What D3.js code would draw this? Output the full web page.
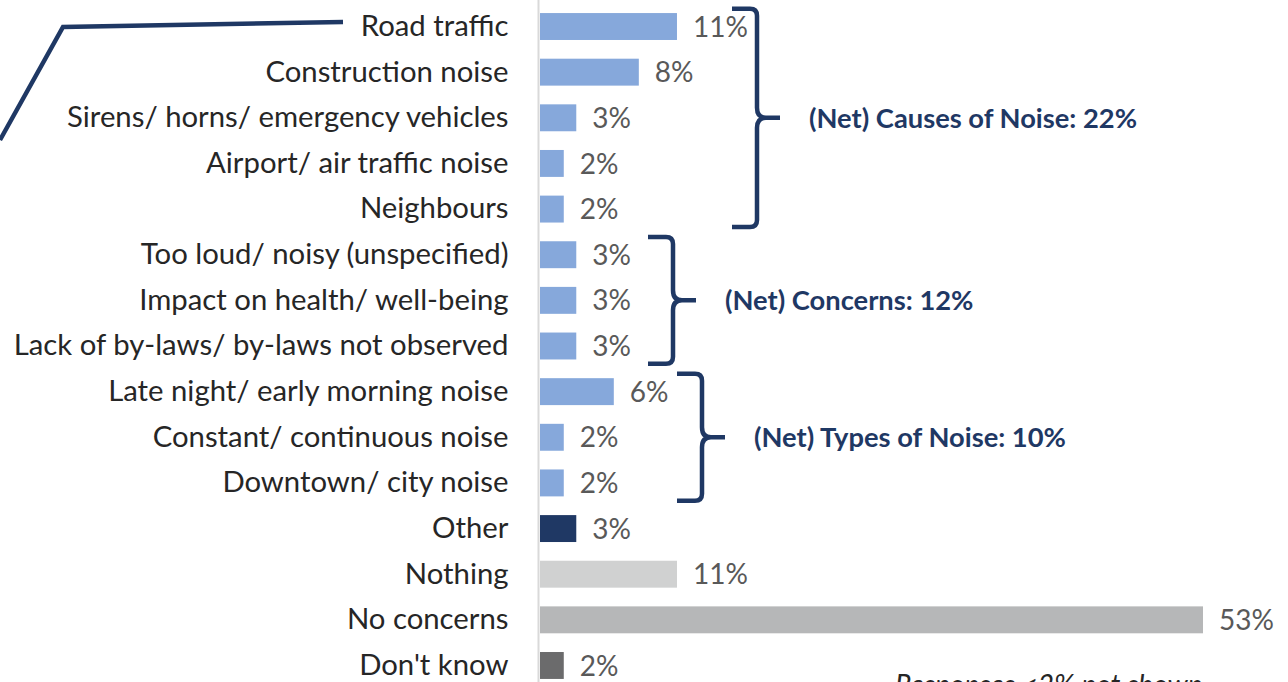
<!DOCTYPE html>
<html>
<head>
<meta charset="utf-8">
<script src="https://cdn.jsdelivr.net/npm/d3@7"></script>
<style>
  body { margin: 0; background: #fff; }
  svg { display: block; font-family: Lato, "Open Sans", sans-serif; }
</style>
</head>
<body>
<div id="app"></div>
<script>
// responses, top to bottom
const categories = [
  "Road traffic",
  "Construction noise",
  "Sirens/ horns/ emergency vehicles",
  "Airport/ air traffic noise",
  "Neighbours",
  "Too loud/ noisy (unspecified)",
  "Impact on health/ well-being",
  "Lack of by-laws/ by-laws not observed",
  "Late night/ early morning noise",
  "Constant/ continuous noise",
  "Downtown/ city noise",
  "Other",
  "Nothing",
  "No concerns",
  "Don't know"
]
const values = [10.95, 7.9, 2.9, 1.9, 1.9, 2.9, 2.9, 2.9, 5.9, 1.9, 1.9, 2.9, 10.95, 53, 1.9]
const valueLabels = ["11%", "8%", "3%", "2%", "2%", "3%", "3%", "3%", "6%", "2%", "2%", "3%", "11%", "53%", "2%"]
const barKinds = ["net", "net", "net", "net", "net", "net", "net", "net", "net", "net", "net", "other", "nothing", "none", "dk"]

const groupNames = ["(Net) Causes of Noise: 22%", "(Net) Concerns: 12%", "(Net) Types of Noise: 10%"]
const groupFirst = [0, 5, 8]
const groupLast = [4, 7, 10]

const footnote = "Responses <2% not shown"

const colors = {
    net: "#86A8DB",
    other: "#1F3864",
    nothing: "#D0D1D1",
    none: "#B6B7B8",
    dk: "#6B6B6C"
}
const navy = "#1F3864"

const width = 1288
const height = 682
const x0 = 540
const step = 45.64

const svg = d3.select('#app')
    .append('svg')
    .attr('width', width)
    .attr('height', height)

const xScale = d3.scaleLinear()
    .domain([0, 53])
    .range([x0, 1203])

const yScale = d3.scaleBand()
    .domain(categories)
    .range([3.7, 3.7 + step * categories.length])
    .paddingInner(0.41)
    .paddingOuter(0.205)

// bars
svg.selectAll('rect.bar')
    .data(categories)
    .enter()
    .append('rect')
    .attr('class', 'bar')
    .attr('x', xScale(0))
    .attr('y', d => yScale(d))
    .attr('width', (d, i) => xScale(values[i]) - xScale(0))
    .attr('height', yScale.bandwidth())
    .attr('fill', (d, i) => colors[barKinds[i]])

// y axis with category labels
const yAxis = d3.axisLeft(yScale).tickSize(0).tickPadding(30)
const gy = svg.append('g')
    .attr('transform', 'translate(538.5,0)')
    .call(yAxis)
gy.select('.domain').attr('stroke', '#D9D9D9').attr('stroke-width', 2)
    .attr('d', `M0,0V${height}`)
gy.selectAll('text')
    .attr('font-family', 'Lato, sans-serif')
    .attr('font-size', 29.3)
    .attr('fill', '#262626')

// value labels
svg.selectAll('text.val')
    .data(categories)
    .enter()
    .append('text')
    .attr('class', 'val')
    .attr('x', (d, i) => xScale(values[i]) + 16)
    .attr('y', d => yScale(d) + yScale.bandwidth() / 2)
    .attr('dy', '0.36em')
    .attr('font-size', 28)
    .attr('fill', '#595959')
    .text((d, i) => valueLabels[i])

// brackets for the net groups
const bracketX = [757, 673, 702]
groupNames.forEach((name, g) => {
    const a = yScale(categories[groupFirst[g]])
    const b = yScale(categories[groupLast[g]]) + yScale.bandwidth()
    const n = groupLast[g] - groupFirst[g] + 1
    const c = (a + b) / 2
    const half = n * step / 2 - 5
    const top = c - half, bot = c + half
    const x = bracketX[g]
    const p = d3.path()
    p.moveTo(x - 25, top)
    p.lineTo(x - 7, top)
    p.quadraticCurveTo(x, top, x, top + 7)
    p.lineTo(x, c - 10)
    p.quadraticCurveTo(x, c, x + 9, c)
    p.lineTo(x + 23, c)
    p.moveTo(x + 9, c)
    p.quadraticCurveTo(x, c, x, c + 10)
    p.lineTo(x, bot - 7)
    p.quadraticCurveTo(x, bot, x - 7, bot)
    p.lineTo(x - 25, bot)
    svg.append('path')
        .attr('d', p.toString())
        .attr('fill', 'none')
        .attr('stroke', navy)
        .attr('stroke-width', 4.5)
    svg.append('text')
        .attr('x', x + 52)
        .attr('y', c)
        .attr('dy', '0.36em')
        .attr('font-size', 27.3)
        .attr('font-weight', 'bold')
        .attr('fill', navy)
        .text(name)
})

// leader line from the top left
svg.append('path')
    .attr('d', d3.line()([[0, 140], [63, 27], [343, 22]]))
    .attr('fill', 'none')
    .attr('stroke', navy)
    .attr('stroke-width', 4.5)

svg.append('text')
    .attr('x', 895)
    .attr('y', 695)
    .attr('font-size', 28)
    .attr('font-style', 'italic')
    .attr('fill', '#262626')
    .text(footnote)
</script>
</body>
</html>
